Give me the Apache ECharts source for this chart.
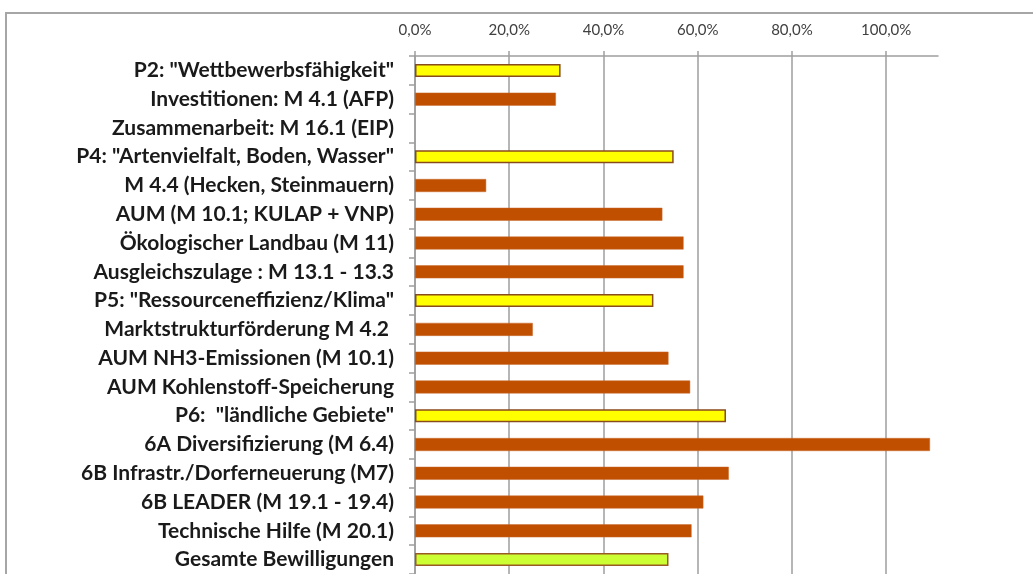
<!DOCTYPE html>
<html>
<head>
<meta charset="utf-8">
<script src="https://cdn.jsdelivr.net/npm/echarts@6/dist/echarts.min.js"></script>
<style>
  html, body { margin: 0; padding: 0; background: #fff; }
  #frame { position: absolute; left: 5px; top: 12px; width: 1040px; height: 600px;
           border-left: 2px solid #a6a6a6; border-top: 2px solid #a6a6a6; }
  #chart { position: absolute; left: 0; top: 0; width: 1033px; height: 574px; }
</style>
</head>
<body>
<div id="frame"></div>
<div id="chart"></div>
<script>
const categories = [
  'P2: "Wettbewerbsfähigkeit"',
  'Investitionen: M 4.1 (AFP)',
  'Zusammenarbeit: M 16.1 (EIP)',
  'P4: "Artenvielfalt, Boden, Wasser"',
  'M 4.4 (Hecken, Steinmauern)',
  'AUM (M 10.1; KULAP + VNP)',
  'Ökologischer Landbau (M 11)',
  'Ausgleichszulage : M 13.1 - 13.3',
  'P5: "Ressourceneffizienz/Klima"',
  'Marktstrukturförderung M 4.2 ',
  'AUM NH3-Emissionen (M 10.1)',
  'AUM Kohlenstoff-Speicherung',
  'P6:  "ländliche Gebiete"',
  '6A Diversifizierung (M 6.4)',
  '6B Infrastr./Dorferneuerung (M7)',
  '6B LEADER (M 19.1 - 19.4)',
  'Technische Hilfe (M 20.1)',
  'Gesamte Bewilligungen'
];
// share in percent
const values = [30.9, 29.9, 0, 54.9, 15.1, 52.5, 57.0, 57.0, 50.6, 25.0, 53.8, 58.4, 66.0, 109.3, 66.6, 61.2, 58.7, 53.8];
// row kind: priority, measure or total
const rowKind = ['prio', 'measure', 'measure', 'prio', 'measure', 'measure', 'measure', 'measure', 'prio',
  'measure', 'measure', 'measure', 'prio', 'measure', 'measure', 'measure', 'measure', 'total'];

const kindStyle = {
  prio: { color: '#ffff00', borderColor: '#8a4b1c', borderWidth: 1.5 },
  measure: { color: '#c04f00', borderColor: '#c86a2e', borderWidth: 0.5 },
  total: { color: '#ccff33', borderColor: '#9a5a24', borderWidth: 1.5 }
};

const chart = echarts.init(document.getElementById('chart'), null, { renderer: 'canvas' });

chart.setOption({
  animation: false,
  grid: { left: 415, top: 56, right: 95, height: 522 },
  xAxis: {
    type: 'value',
    position: 'top',
    min: 0,
    max: 111,
    interval: 20,
    axisLine: { show: true, lineStyle: { color: '#9e9e9e', width: 1.5 } },
    axisTick: { show: true, length: 5, lineStyle: { color: '#9e9e9e', width: 1.5 } },
    splitLine: { show: true, showMaxLine: false, lineStyle: { color: '#9e9e9e', width: 1.5 } },
    axisLabel: {
      margin: 18,
      color: '#404040',
      fontFamily: 'Lato, sans-serif',
      fontSize: 15,
      showMaxLabel: false,
      formatter: v => v > 100 ? '' : v.toFixed(1).replace('.', ',') + '%'
    }
  },
  yAxis: {
    type: 'category',
    inverse: true,
    data: categories,
    axisLine: { show: true, lineStyle: { color: '#9e9e9e', width: 1.5 } },
    axisTick: { show: true, length: 6, lineStyle: { color: '#9e9e9e', width: 1.5 } },
    axisLabel: {
      margin: 21,
      color: '#1a1a1a',
      fontWeight: 'bold',
      fontFamily: 'Lato, sans-serif',
      fontSize: 21
    }
  },
  series: [{
    type: 'bar',
    barWidth: 13,
    data: values.map((v, i) => ({
      value: v,
      itemStyle: v === 0 ? { borderWidth: 0 } : kindStyle[rowKind[i]]
    }))
  }]
});
</script>
</body>
</html>
